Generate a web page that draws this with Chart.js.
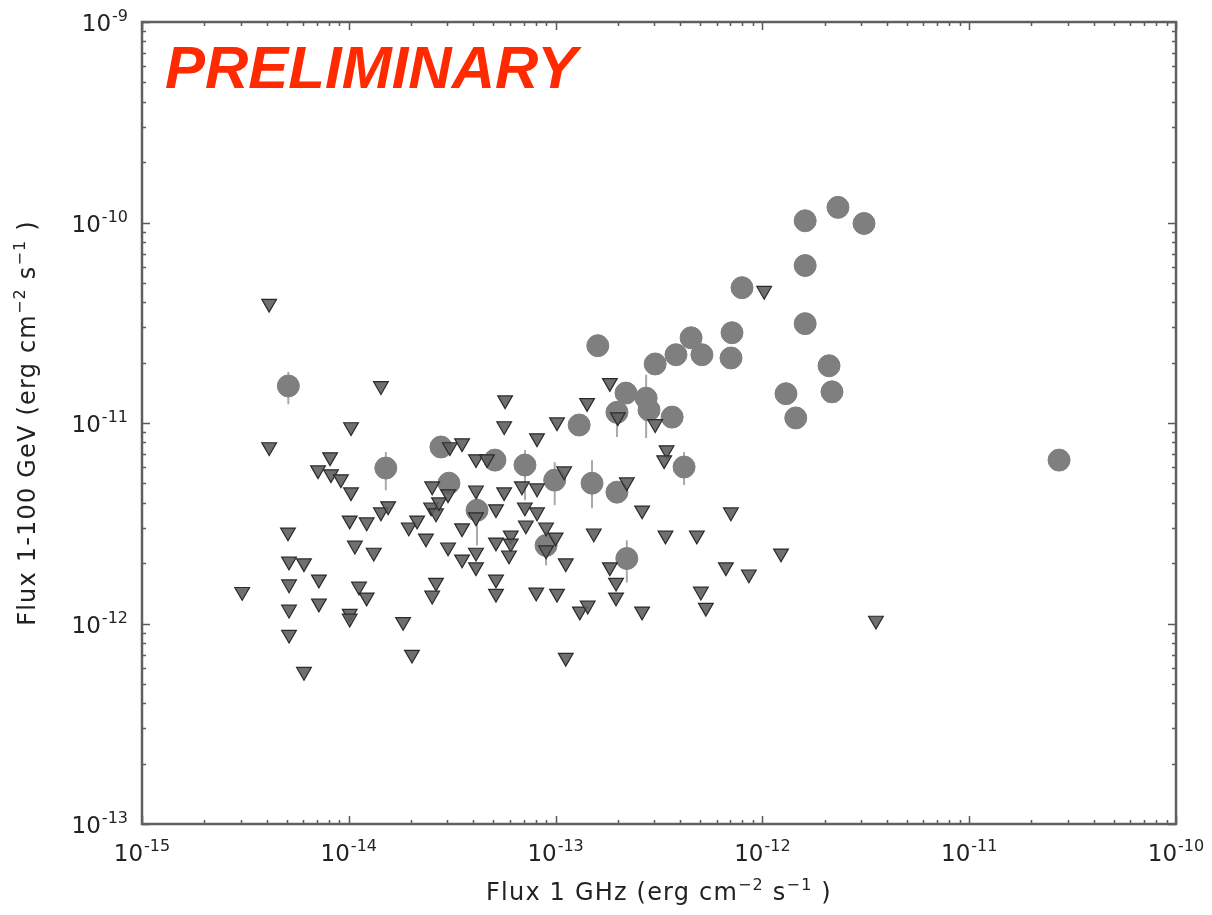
<!DOCTYPE html>
<html>
<head>
<meta charset="utf-8">
<script src="https://cdn.jsdelivr.net/npm/chart.js@4.4.0/dist/chart.umd.min.js"></script>
<style>
    html, body { margin: 0; padding: 0; background: #fff; }
    #wrap { width: 1212px; height: 915px; position: relative; }
</style>
</head>
<body>
<div id="wrap"><canvas id="grafico"></canvas></div>
<script>
// ============================
// DADOS
// ============================
// detections (circles)
const detX = [5.1e-15, 1.51e-14, 2.79e-14, 3.05e-14, 4.17e-14, 5.09e-14, 7.11e-14, 9.9e-14, 1.5e-13, 1.98e-13,
    8.99e-14, 2.21e-13, 1.3e-13, 1.6e-13, 2.19e-13, 2.74e-13, 1.98e-13, 2.83e-13, 3.03e-13, 3.82e-13,
    4.52e-13, 5.1e-13, 7.13e-13, 7.05e-13, 7.97e-13, 1.61e-12, 2.32e-12, 3.1e-12, 1.61e-12, 1.61e-12,
    2.1e-12, 2.17e-12, 1.3e-12, 1.45e-12, 3.66e-13, 4.18e-13, 2.72e-11];
const detY = [1.53e-11, 5.96e-12, 7.59e-12, 5.01e-12, 3.67e-12, 6.53e-12, 6.17e-12, 5.19e-12, 5.01e-12, 4.52e-12,
    2.45e-12, 2.11e-12, 9.77e-12, 2.43e-11, 1.41e-11, 1.33e-11, 1.13e-11, 1.16e-11, 1.97e-11, 2.19e-11,
    2.66e-11, 2.19e-11, 2.82e-11, 2.11e-11, 4.73e-11, 1.02e-10, 1.19e-10, 9.89e-11, 6.1e-11, 3.13e-11,
    1.93e-11, 1.43e-11, 1.4e-11, 1.06e-11, 1.07e-11, 6.03e-12, 6.53e-12];
const detErrHi = [1.8e-11, 7.16e-12, null, null, 4.62e-12, null, 7.33e-12, 6.38e-12, 6.53e-12, null,
    2.92e-12, 2.6e-12, null, null, null, 1.74e-11, 1.23e-11, null, null, null,
    null, null, null, null, null, null, null, null, null, null,
    null, null, null, null, null, 7.16e-12, null];
const detErrLo = [1.24e-11, 4.62e-12, null, null, 2.45e-12, null, 4.12e-12, 3.89e-12, 3.76e-12, null,
    1.95e-12, 1.6e-12, null, null, null, 8.41e-12, 8.51e-12, null, null, null,
    null, null, null, null, null, null, null, null, null, null,
    null, null, null, null, null, 4.9e-12, null];

// upper limits (triangles)
const ulX = [3.05e-15, 4.12e-15, 4.12e-15, 5.08e-15, 5.14e-15, 6.07e-15, 5.14e-15, 5.14e-15, 5.14e-15, 6.07e-15,
    7.1e-15, 7.17e-15, 7.17e-15, 8.12e-15, 8.2e-15, 9.16e-15, 1.025e-14, 1.025e-14, 1.43e-14, 1.01e-14,
    1.22e-14, 1.43e-14, 1.55e-14, 1.07e-14, 1.32e-14, 1.12e-14, 1.22e-14, 1.01e-14, 1.01e-14, 1.83e-14,
    2.02e-14, 1.95e-14, 2.14e-14, 2.36e-14, 2.53e-14, 2.5e-14, 2.64e-14, 2.73e-14, 3.02e-14, 3.08e-14,
    3.53e-14, 4.12e-14, 4.66e-14, 4.12e-14, 4.12e-14, 5.15e-14, 3.53e-14, 3.02e-14, 3.53e-14, 4.12e-14,
    4.12e-14, 5.15e-14, 2.64e-14, 2.53e-14, 5.15e-14, 5.15e-14, 5.7e-14, 5.64e-14, 8.13e-14, 1.016e-13,
    1.42e-13, 1.83e-13, 2.0e-13, 3.03e-13, 5.64e-14, 6.87e-14, 8.13e-14, 7.1e-14, 8.13e-14, 6.07e-14,
    6.07e-14, 5.95e-14, 7.18e-14, 8.99e-14, 1.0e-13, 1.12e-13, 1.53e-13, 1.1e-13, 2.21e-13, 2.62e-13,
    8.06e-14, 1.016e-13, 1.31e-13, 1.43e-13, 1.83e-13, 1.96e-13, 1.96e-13, 2.62e-13, 1.12e-13, 3.44e-13,
    3.35e-13, 3.4e-13, 4.82e-13, 7.04e-13, 1.23e-12, 6.66e-13, 8.6e-13, 5.04e-13, 5.33e-13, 1.02e-12,
    3.54e-12, 8.99e-14];
const ulY = [1.44e-12, 3.94e-11, 7.59e-12, 2.85e-12, 2.04e-12, 2.0e-12, 1.57e-12, 1.175e-12, 8.81e-13, 5.75e-13,
    5.82e-12, 1.66e-12, 1.26e-12, 6.76e-12, 5.56e-12, 5.25e-12, 4.52e-12, 9.55e-12, 1.53e-11, 3.27e-12,
    3.2e-12, 3.59e-12, 3.85e-12, 2.45e-12, 2.26e-12, 1.53e-12, 1.35e-12, 1.12e-12, 1.06e-12, 1.02e-12,
    7.0e-13, 3.02e-12, 3.27e-12, 2.66e-12, 4.84e-12, 3.8e-12, 3.55e-12, 4.03e-12, 4.42e-12, 7.59e-12,
    7.94e-12, 6.61e-12, 6.61e-12, 4.62e-12, 3.39e-12, 3.72e-12, 2.99e-12, 2.4e-12, 2.09e-12, 2.26e-12,
    1.91e-12, 2.54e-12, 1.6e-12, 1.38e-12, 1.66e-12, 1.41e-12, 1.3e-11, 9.66e-12, 8.41e-12, 1.01e-11,
    1.26e-11, 1.585e-11, 1.07e-11, 9.89e-12, 4.52e-12, 4.84e-12, 4.73e-12, 3.8e-12, 3.59e-12, 2.75e-12,
    2.51e-12, 2.19e-12, 3.09e-12, 3.02e-12, 2.69e-12, 2.0e-12, 2.82e-12, 5.75e-12, 5.07e-12, 3.67e-12,
    1.43e-12, 1.41e-12, 1.15e-12, 1.23e-12, 1.91e-12, 1.6e-12, 1.35e-12, 1.15e-12, 6.76e-13, 7.33e-12,
    6.53e-12, 2.75e-12, 2.75e-12, 3.59e-12, 2.24e-12, 1.91e-12, 1.76e-12, 1.445e-12, 1.2e-12, 4.57e-11,
    1.035e-12, 2.32e-12];

// ticks: base "10" + exponent
const xTickValues = [1e-15, 1e-14, 1e-13, 1e-12, 1e-11, 1e-10];
const xTickExp = ["-15", "-14", "-13", "-12", "-11", "-10"];
const yTickValues = [1e-13, 1e-12, 1e-11, 1e-10, 1e-9];
const yTickExp = ["-13", "-12", "-11", "-10", "-9"];

// axis titles as [text, superscript?] pieces
const xTitulo = [["Flux 1 GHz (erg cm", false], ["\u22122", true], [" s", false], ["\u22121", true], [" )", false]];
const yTitulo = [["Flux 1-100 GeV (erg cm", false], ["\u22122", true], [" s", false], ["\u22121", true], [" )", false]];
const carimbo = "PRELIMINARY";

// ============================
// PLUGINS
// ============================
const fonte = "'DejaVu Sans', sans-serif";

const barrasErro = {
    id: "barrasErro",
    beforeDatasetsDraw(chart) {
        const ctx = chart.ctx;
        const sx = chart.scales.x, sy = chart.scales.y;
        ctx.save();
        ctx.strokeStyle = "#a9a9a9";
        ctx.lineWidth = 2;
        detX.forEach((x, i) => {
            if (detErrLo[i] === null) return;
            const px = sx.getPixelForValue(x);
            ctx.beginPath();
            ctx.moveTo(px, sy.getPixelForValue(detErrHi[i]));
            ctx.lineTo(px, sy.getPixelForValue(detErrLo[i]));
            ctx.stroke();
        });
        ctx.restore();
    }
};

function ticksLog(vmin, vmax) {
    const lista = [];
    for (let e = Math.round(Math.log10(vmin)); e < Math.round(Math.log10(vmax)); e++) {
        for (let m = 1; m < 10; m++) lista.push({ v: m * Math.pow(10, e), major: m === 1 });
    }
    lista.push({ v: vmax, major: true });
    return lista;
}

// "10" with a raised exponent; align: "center" or "right"
function rotuloPotencia(ctx, exp, x, y, align) {
    ctx.font = "23px " + fonte;
    const wBase = ctx.measureText("10").width;
    ctx.font = "16px " + fonte;
    const wExp = ctx.measureText(exp).width;
    const total = wBase + 1 + wExp;
    const x0 = align === "right" ? x - total : x - total / 2;
    ctx.font = "23px " + fonte;
    ctx.fillText("10", x0, y);
    ctx.font = "16px " + fonte;
    ctx.fillText(exp, x0 + wBase + 1, y - 10);
}

function tituloMisto(ctx, partes, cx, cy) {
    ctx.letterSpacing = "1.2px";
    const fontes = partes.map(p => (p[1] ? "16px " : "24px ") + fonte);
    const larguras = partes.map((p, i) => { ctx.font = fontes[i]; return ctx.measureText(p[0]).width; });
    let x = cx - larguras.reduce((a, b) => a + b, 0) / 2;
    partes.forEach((p, i) => {
        ctx.font = fontes[i];
        ctx.fillText(p[0], x, p[1] ? cy - 10 : cy);
        x += larguras[i];
    });
    ctx.letterSpacing = "0px";
}

const moldura = {
    id: "moldura",
    afterDraw(chart) {
        const ctx = chart.ctx;
        const a = chart.chartArea;
        const sx = chart.scales.x, sy = chart.scales.y;
        ctx.save();
        ctx.strokeStyle = "#5a5a5a";
        ctx.lineWidth = 1.5;
        ticksLog(1e-15, 1e-10).forEach(t => {
            const px = Math.round(sx.getPixelForValue(t.v)) + 0.5;
            const len = t.major ? 8 : 4;
            ctx.beginPath();
            ctx.moveTo(px, a.bottom); ctx.lineTo(px, a.bottom - len);
            ctx.moveTo(px, a.top); ctx.lineTo(px, a.top + len);
            ctx.stroke();
        });
        ticksLog(1e-13, 1e-9).forEach(t => {
            const py = Math.round(sy.getPixelForValue(t.v)) + 0.5;
            const len = t.major ? 8 : 4;
            ctx.beginPath();
            ctx.moveTo(a.left, py); ctx.lineTo(a.left + len, py);
            ctx.moveTo(a.right, py); ctx.lineTo(a.right - len, py);
            ctx.stroke();
        });
        ctx.lineWidth = 2.5;
        ctx.strokeStyle = "#606060";
        ctx.strokeRect(a.left, a.top, a.right - a.left, a.bottom - a.top);

        // tick labels
        ctx.fillStyle = "#222";
        ctx.textBaseline = "alphabetic";
        ctx.textAlign = "left";
        xTickValues.forEach((v, i) => {
            rotuloPotencia(ctx, xTickExp[i], sx.getPixelForValue(v), a.bottom + 37, "center");
        });
        yTickValues.forEach((v, i) => {
            rotuloPotencia(ctx, yTickExp[i], a.left - 14, sy.getPixelForValue(v) + 9, "right");
        });

        // axis titles
        tituloMisto(ctx, xTitulo, (a.left + a.right) / 2, 900);
        ctx.save();
        ctx.translate(35, (a.top + a.bottom) / 2);
        ctx.rotate(-Math.PI / 2);
        tituloMisto(ctx, yTitulo, 0, 0);
        ctx.restore();

        // red stamp
        ctx.fillStyle = "#ff2a00";
        ctx.font = "italic bold 60px 'Liberation Sans', Arial, sans-serif";
        ctx.fillText(carimbo, 165, 88);
        ctx.restore();
    }
};

// ============================
// GRAFICO
// ============================
const grafico = new Chart(document.getElementById("grafico"), {
    type: "scatter",
    data: {
        datasets: [
            {
                label: "upper limits",
                data: ulX.map((x, i) => ({ x: x, y: ulY[i] })),
                pointStyle: "triangle",
                rotation: 180,
                radius: 8.5,
                backgroundColor: "rgba(95,95,95,0.9)",
                borderColor: "#2a2a2a",
                borderWidth: 1.2,
                order: 0
            },
            {
                label: "detections",
                data: detX.map((x, i) => ({ x: x, y: detY[i] })),
                pointStyle: "circle",
                radius: 11,
                backgroundColor: "#7f7f7f",
                borderColor: "#7f7f7f",
                borderWidth: 1,
                order: 1
            }
        ]
    },
    options: {
        responsive: true,
        maintainAspectRatio: false,
        animation: false,
        devicePixelRatio: 1,
        layout: { padding: { top: 22, right: 36, left: 0, bottom: 0 } },
        plugins: {
            legend: { display: false },
            tooltip: { enabled: false }
        },
        scales: {
            x: {
                type: "logarithmic",
                min: 1e-15,
                max: 1e-10,
                afterFit(s) { s.height = 91; },
                afterBuildTicks(s) { s.ticks = xTickValues.map(v => ({ value: v })); },
                grid: { display: false, drawTicks: false },
                border: { display: false },
                ticks: { display: false }
            },
            y: {
                type: "logarithmic",
                min: 1e-13,
                max: 1e-9,
                afterFit(s) { s.width = 142; },
                afterBuildTicks(s) { s.ticks = yTickValues.map(v => ({ value: v })); },
                grid: { display: false, drawTicks: false },
                border: { display: false },
                ticks: { display: false }
            }
        }
    },
    plugins: [barrasErro, moldura]
});
</script>
</body>
</html>
